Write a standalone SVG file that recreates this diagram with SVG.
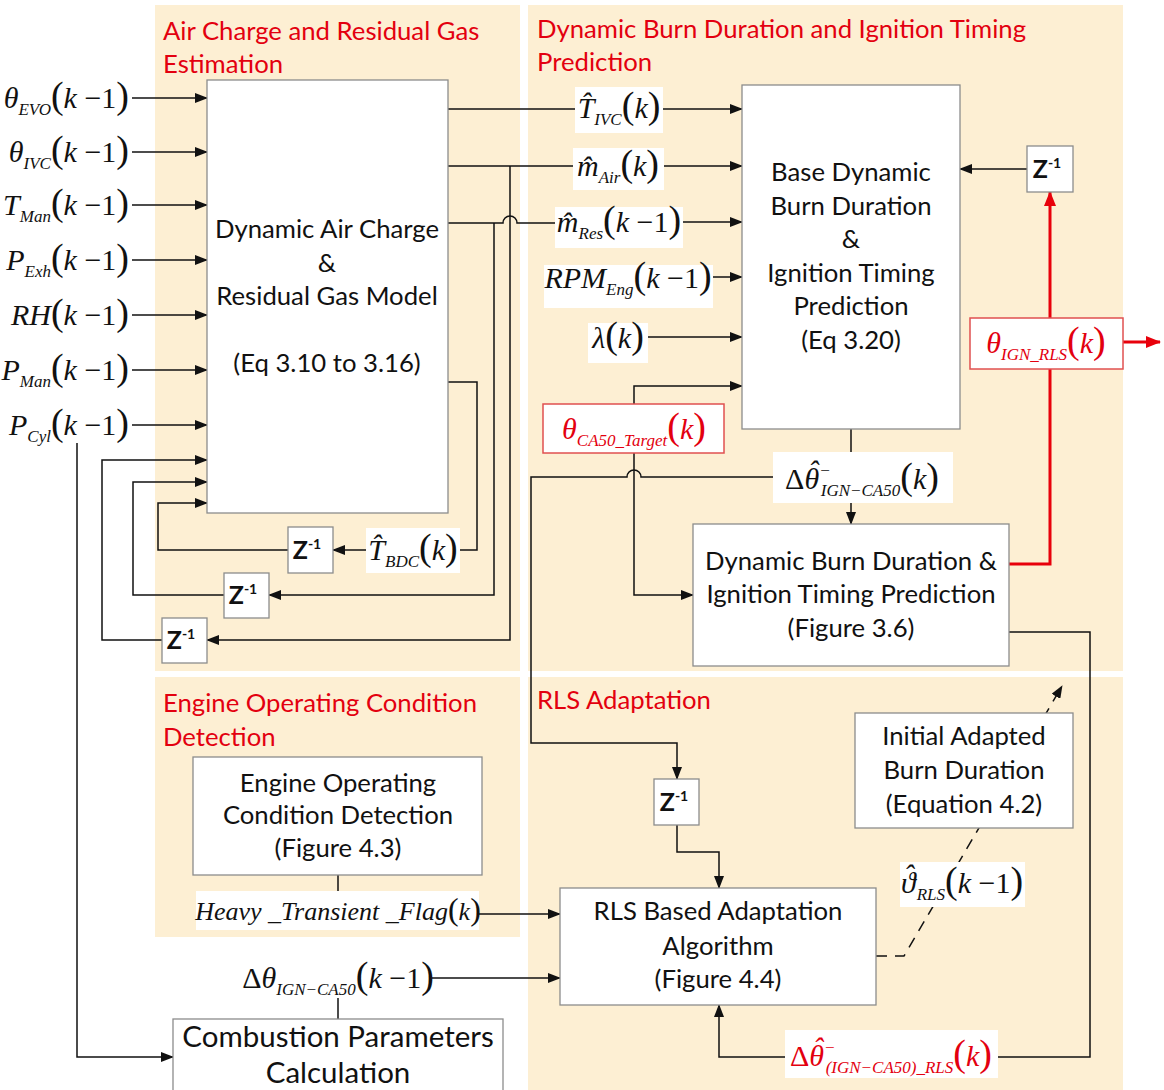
<svg xmlns="http://www.w3.org/2000/svg" width="1164" height="1090" viewBox="0 0 1164 1090">
  <style>
    .panel{fill:#FDEFD3}
    .box{fill:#fff;stroke:#8c8c8c;stroke-width:1.3}
    .lbl{fill:#fff}
    .rbox{fill:#fff;stroke:#E05050;stroke-width:1.5}
    .t{font-family:Lato,"Liberation Sans",sans-serif;font-size:25.7px;fill:#111;text-anchor:middle}
    .title{font-family:Lato,"Liberation Sans",sans-serif;font-size:25.7px;fill:#E3000F}
    .m{font-family:"Liberation Serif","DejaVu Serif",serif;font-size:30px;font-style:italic;fill:#111}
    .m .n,.m .p{font-style:normal}
    .m .p{font-size:38px}
    .m .sb{font-size:17px}
    .red-t{fill:#E3000F}
    .z{font-family:Lato,"Liberation Sans",sans-serif;font-weight:bold;font-size:25px;fill:#111;text-anchor:middle}
    .z .e{font-size:14px}
    .w{fill:none;stroke:#111;stroke-width:1.5}
    .r{fill:none;stroke:#E8000B;stroke-width:3}
    .dash{stroke-dasharray:11 8}
  </style>
  <defs>
    <marker id="ah" markerUnits="userSpaceOnUse" markerWidth="13" markerHeight="10" refX="12" refY="5" orient="auto">
      <path d="M0,0 L13,5 L0,10 z" fill="#111"/>
    </marker>
    <marker id="ahr" markerUnits="userSpaceOnUse" markerWidth="15" markerHeight="12" refX="14" refY="6" orient="auto">
      <path d="M0,0 L15,6 L0,12 z" fill="#E8000B"/>
    </marker>
  </defs>

  <!-- background sections -->
  <g id="sections">
    <rect class="panel" x="155" y="5" width="365" height="666"/>
    <rect class="panel" x="528" y="5" width="595" height="666"/>
    <rect class="panel" x="155" y="677" width="365" height="260"/>
    <rect class="panel" x="528" y="677" width="595" height="413"/>
    <text class="title" x="163" y="40">Air Charge and Residual Gas</text>
    <text class="title" x="163" y="73">Estimation</text>
    <text class="title" x="537" y="38">Dynamic Burn Duration and Ignition Timing</text>
    <text class="title" x="537" y="71">Prediction</text>
    <text class="title" x="163" y="712">Engine Operating Condition</text>
    <text class="title" x="163" y="746">Detection</text>
    <text class="title" x="537" y="709">RLS Adaptation</text>
  </g>

  <!-- signal connectors -->
  <g id="connectors">
    <!-- measured inputs into the air charge model -->
    <path class="w" d="M132,98 H207" marker-end="url(#ah)"/>
    <path class="w" d="M132,152 H207" marker-end="url(#ah)"/>
    <path class="w" d="M132,205 H207" marker-end="url(#ah)"/>
    <path class="w" d="M132,260 H207" marker-end="url(#ah)"/>
    <path class="w" d="M132,315 H207" marker-end="url(#ah)"/>
    <path class="w" d="M132,370 H207" marker-end="url(#ah)"/>
    <path class="w" d="M132,425 H207" marker-end="url(#ah)"/>
    <!-- delayed feedback loops -->
    <path class="w" d="M288,550 H158 V503 H207" marker-end="url(#ah)"/>
    <path class="w" d="M224,595 H133 V482 H207" marker-end="url(#ah)"/>
    <path class="w" d="M162,640 H102 V460 H207" marker-end="url(#ah)"/>
    <path class="w" d="M448,382 H477 V550 H460"/>
    <path class="w" d="M366,550 H333" marker-end="url(#ah)"/>
    <path class="w" d="M494,223 V595 H269" marker-end="url(#ah)"/>
    <path class="w" d="M510,166 V640 H207" marker-end="url(#ah)"/>
    <!-- model outputs to the base prediction -->
    <path class="w" d="M448,109 H575"/>
    <path class="w" d="M663,109 H742" marker-end="url(#ah)"/>
    <path class="w" d="M448,166 H573"/>
    <path class="w" d="M664,166 H742" marker-end="url(#ah)"/>
    <path class="w" d="M448,223 H503 a7,7 0 0 1 14,0 H555"/>
    <path class="w" d="M683,222 H742" marker-end="url(#ah)"/>
    <path class="w" d="M713,277 H742" marker-end="url(#ah)"/>
    <path class="w" d="M648,337 H742" marker-end="url(#ah)"/>
    <path class="w" d="M634,404 V386 H742" marker-end="url(#ah)"/>
    <path class="w" d="M634,453 V595 H693" marker-end="url(#ah)"/>
    <path class="w" d="M851,429 V452"/>
    <path class="w" d="M851,503 V524" marker-end="url(#ah)"/>
    <path class="w" d="M773,477 H641 a7,7 0 0 0 -14,0 H531 V743 H677 V779" marker-end="url(#ah)"/>
    <path class="w" d="M1027,169 H960" marker-end="url(#ah)"/>
    <!-- ignition timing output -->
    <path class="r" d="M1050,318 V192" marker-end="url(#ahr)"/>
    <path class="r" d="M1009,564 H1050 V369"/>
    <path class="r" d="M1123,342 H1160" marker-end="url(#ahr)"/>
    <!-- RLS adaptation loop -->
    <path class="w" d="M1009,632 H1090 V1057 H998"/>
    <path class="w" d="M785,1057 H719 V1005" marker-end="url(#ah)"/>
    <path class="w" d="M677,825 V852 H719 V888" marker-end="url(#ah)"/>
    <path class="w" d="M479,914 H560" marker-end="url(#ah)"/>
    <path class="w" d="M432,978 H560" marker-end="url(#ah)"/>
    <path class="w" d="M338,875 V891"/>
    <path class="w" d="M338,998 V1019"/>
    <path class="w" d="M77,443 V1057 H173" marker-end="url(#ah)"/>
    <path class="w dash" d="M876,956 H904 L1062,686" marker-end="url(#ah)"/>
  </g>

  <!-- input signal labels -->
  <g id="inputs">
    <text class="m" x="129" y="108" text-anchor="end">θ<tspan class="sb" dy="7">EVO</tspan><tspan class="p" dy="-7">(</tspan>k <tspan class="n">−1</tspan><tspan class="p">)</tspan></text>
    <text class="m" x="129" y="162" text-anchor="end">θ<tspan class="sb" dy="7">IVC</tspan><tspan class="p" dy="-7">(</tspan>k <tspan class="n">−1</tspan><tspan class="p">)</tspan></text>
    <text class="m" x="129" y="215" text-anchor="end">T<tspan class="sb" dy="7">Man</tspan><tspan class="p" dy="-7">(</tspan>k <tspan class="n">−1</tspan><tspan class="p">)</tspan></text>
    <text class="m" x="129" y="270" text-anchor="end">P<tspan class="sb" dy="7">Exh</tspan><tspan class="p" dy="-7">(</tspan>k <tspan class="n">−1</tspan><tspan class="p">)</tspan></text>
    <text class="m" x="129" y="325" text-anchor="end">RH<tspan class="p">(</tspan>k <tspan class="n">−1</tspan><tspan class="p">)</tspan></text>
    <text class="m" x="129" y="380" text-anchor="end">P<tspan class="sb" dy="7">Man</tspan><tspan class="p" dy="-7">(</tspan>k <tspan class="n">−1</tspan><tspan class="p">)</tspan></text>
    <text class="m" x="129" y="435" text-anchor="end">P<tspan class="sb" dy="7">Cyl</tspan><tspan class="p" dy="-7">(</tspan>k <tspan class="n">−1</tspan><tspan class="p">)</tspan></text>
  </g>

  <!-- air charge and residual gas model -->
  <g id="air-charge-model">
    <rect class="box" x="207" y="80" width="241" height="433"/>
    <text class="t" x="327" y="238">Dynamic Air Charge</text>
    <text class="t" x="327" y="272">&amp;</text>
    <text class="t" x="327" y="305">Residual Gas Model</text>
    <text class="t" x="327" y="372">(Eq 3.10 to 3.16)</text>
  </g>

  <g id="delay-bdc">
    <rect class="box" x="288" y="527" width="45" height="46"/>
    <text class="z" x="307" y="559">Z<tspan class="e" dy="-10">-1</tspan></text>
  </g>
  <g id="delay-res">
    <rect class="box" x="224" y="573" width="45" height="45"/>
    <text class="z" x="243" y="604">Z<tspan class="e" dy="-10">-1</tspan></text>
  </g>
  <g id="delay-air">
    <rect class="box" x="162" y="618" width="45" height="45"/>
    <text class="z" x="181" y="649">Z<tspan class="e" dy="-10">-1</tspan></text>
  </g>
  <g id="label-tbdc">
    <rect class="lbl" x="366" y="528" width="94" height="45"/>
    <text class="m" x="413" y="560" text-anchor="middle">T̂<tspan class="sb" dy="7">BDC</tspan><tspan class="p" dy="-7">(</tspan>k<tspan class="p">)</tspan></text>
  </g>

  <!-- labels on the model outputs -->
  <g id="label-tivc">
    <rect class="lbl" x="575" y="87" width="88" height="46"/>
    <text class="m" x="619" y="118" text-anchor="middle">T̂<tspan class="sb" dy="7">IVC</tspan><tspan class="p" dy="-7">(</tspan>k<tspan class="p">)</tspan></text>
  </g>
  <g id="label-mair">
    <rect class="lbl" x="573" y="148" width="91" height="42"/>
    <text class="m" x="618" y="176" text-anchor="middle">m̂<tspan class="sb" dy="7">Air</tspan><tspan class="p" dy="-7">(</tspan>k<tspan class="p">)</tspan></text>
  </g>
  <g id="label-mres">
    <rect class="lbl" x="555" y="207" width="128" height="41"/>
    <text class="m" x="619" y="232" text-anchor="middle">m̂<tspan class="sb" dy="7">Res</tspan><tspan class="p" dy="-7">(</tspan>k <tspan class="n">−1</tspan><tspan class="p">)</tspan></text>
  </g>
  <g id="label-rpm">
    <rect class="lbl" x="544" y="265" width="169" height="43"/>
    <text class="m" x="628" y="288" text-anchor="middle">RPM<tspan class="sb" dy="7">Eng</tspan><tspan class="p" dy="-7">(</tspan>k <tspan class="n">−1</tspan><tspan class="p">)</tspan></text>
  </g>
  <g id="label-lambda">
    <rect class="lbl" x="588" y="323" width="60" height="40"/>
    <text class="m" x="618" y="348" text-anchor="middle">λ<tspan class="p">(</tspan>k<tspan class="p">)</tspan></text>
  </g>
  <g id="label-ca50-target">
    <rect class="rbox" x="543" y="404" width="181" height="49"/>
    <text class="m red-t" x="634" y="439" text-anchor="middle">θ<tspan class="sb" dy="7">CA50_Target</tspan><tspan class="p" dy="-7">(</tspan>k<tspan class="p">)</tspan></text>
  </g>

  <!-- base burn duration and ignition timing prediction -->
  <g id="base-prediction">
    <rect class="box" x="742" y="85" width="218" height="344"/>
    <text class="t" x="851" y="181">Base Dynamic</text>
    <text class="t" x="851" y="215">Burn Duration</text>
    <text class="t" x="851" y="248">&amp;</text>
    <text class="t" x="851" y="282">Ignition Timing</text>
    <text class="t" x="851" y="315">Prediction</text>
    <text class="t" x="851" y="349">(Eq 3.20)</text>
  </g>
  <g id="delay-ign">
    <rect class="box" x="1027" y="146" width="46" height="46"/>
    <text class="z" x="1047" y="178">Z<tspan class="e" dy="-10">-1</tspan></text>
  </g>
  <g id="label-ign-rls">
    <rect class="rbox" x="970" y="318" width="153" height="51"/>
    <text class="m red-t" x="1046" y="353" text-anchor="middle">θ<tspan class="sb" dy="7">IGN_RLS</tspan><tspan class="p" dy="-7">(</tspan>k<tspan class="p">)</tspan></text>
  </g>
  <g id="label-dtheta">
    <rect class="lbl" x="773" y="452" width="180" height="51"/>
    <text class="m" x="862" y="489" text-anchor="middle"><tspan class="n">Δ</tspan>θ<tspan dx="-11" dy="-8">ˆ</tspan><tspan class="sb n" dx="2" dy="-5">−</tspan><tspan class="sb" dx="-9" dy="20">IGN−CA50</tspan><tspan class="p" dy="-7">(</tspan>k<tspan class="p">)</tspan></text>
  </g>

  <!-- dynamic burn duration and ignition timing prediction -->
  <g id="dynamic-prediction">
    <rect class="box" x="693" y="524" width="316" height="142"/>
    <text class="t" x="851" y="570">Dynamic Burn Duration &amp;</text>
    <text class="t" x="851" y="603">Ignition Timing Prediction</text>
    <text class="t" x="851" y="637">(Figure 3.6)</text>
  </g>

  <!-- engine operating condition detection -->
  <g id="condition-detection">
    <rect class="box" x="193" y="757" width="289" height="118"/>
    <text class="t" x="338" y="792">Engine Operating</text>
    <text class="t" x="338" y="824">Condition Detection</text>
    <text class="t" x="338" y="857">(Figure 4.3)</text>
  </g>
  <g id="label-transient">
    <rect class="lbl" x="196" y="891" width="283" height="39"/>
    <text class="m" x="338" y="920" text-anchor="middle" style="font-size:26px">Heavy _Transient _Flag<tspan class="p" style="font-size:32px">(</tspan>k<tspan class="p" style="font-size:32px">)</tspan></text>
  </g>
  <g id="label-dtheta-meas">
    <text class="m" x="338" y="988" text-anchor="middle"><tspan class="n">Δ</tspan>θ<tspan class="sb" dy="7">IGN−CA50</tspan><tspan class="p" dy="-7">(</tspan>k <tspan class="n">−1</tspan><tspan class="p">)</tspan></text>
  </g>
  <g id="combustion-parameters">
    <rect class="box" x="173" y="1019" width="330" height="80"/>
    <text class="t" x="338" y="1047" style="font-size:29.5px">Combustion Parameters</text>
    <text class="t" x="338" y="1083" style="font-size:29.5px">Calculation</text>
  </g>

  <!-- RLS adaptation -->
  <g id="delay-rls">
    <rect class="box" x="654" y="779" width="45" height="46"/>
    <text class="z" x="674" y="811">Z<tspan class="e" dy="-10">-1</tspan></text>
  </g>
  <g id="initial-burn-duration">
    <rect class="box" x="855" y="713" width="218" height="115"/>
    <text class="t" x="964" y="745">Initial Adapted</text>
    <text class="t" x="964" y="779">Burn Duration</text>
    <text class="t" x="964" y="813">(Equation 4.2)</text>
  </g>
  <g id="label-vartheta">
    <rect class="lbl" x="900" y="862" width="125" height="45"/>
    <text class="m" x="962" y="893" text-anchor="middle">ϑ<tspan dx="-12" dy="-8">ˆ</tspan><tspan class="sb" dx="3" dy="15">RLS</tspan><tspan class="p" dy="-7">(</tspan>k <tspan class="n">−1</tspan><tspan class="p">)</tspan></text>
  </g>
  <g id="rls-algorithm">
    <rect class="box" x="560" y="888" width="316" height="117"/>
    <text class="t" x="718" y="920">RLS Based Adaptation</text>
    <text class="t" x="718" y="955">Algorithm</text>
    <text class="t" x="718" y="988">(Figure 4.4)</text>
  </g>
  <g id="label-dtheta-rls">
    <rect class="lbl" x="785" y="1030" width="213" height="48"/>
    <text class="m red-t" x="891" y="1066" text-anchor="middle"><tspan class="n">Δ</tspan>θ<tspan dx="-11" dy="-8">ˆ</tspan><tspan class="sb n" dx="2" dy="-5">−</tspan><tspan class="sb" dx="-9" dy="20">(IGN−CA50)_RLS</tspan><tspan class="p" dy="-7">(</tspan>k<tspan class="p">)</tspan></text>
  </g>
</svg>
